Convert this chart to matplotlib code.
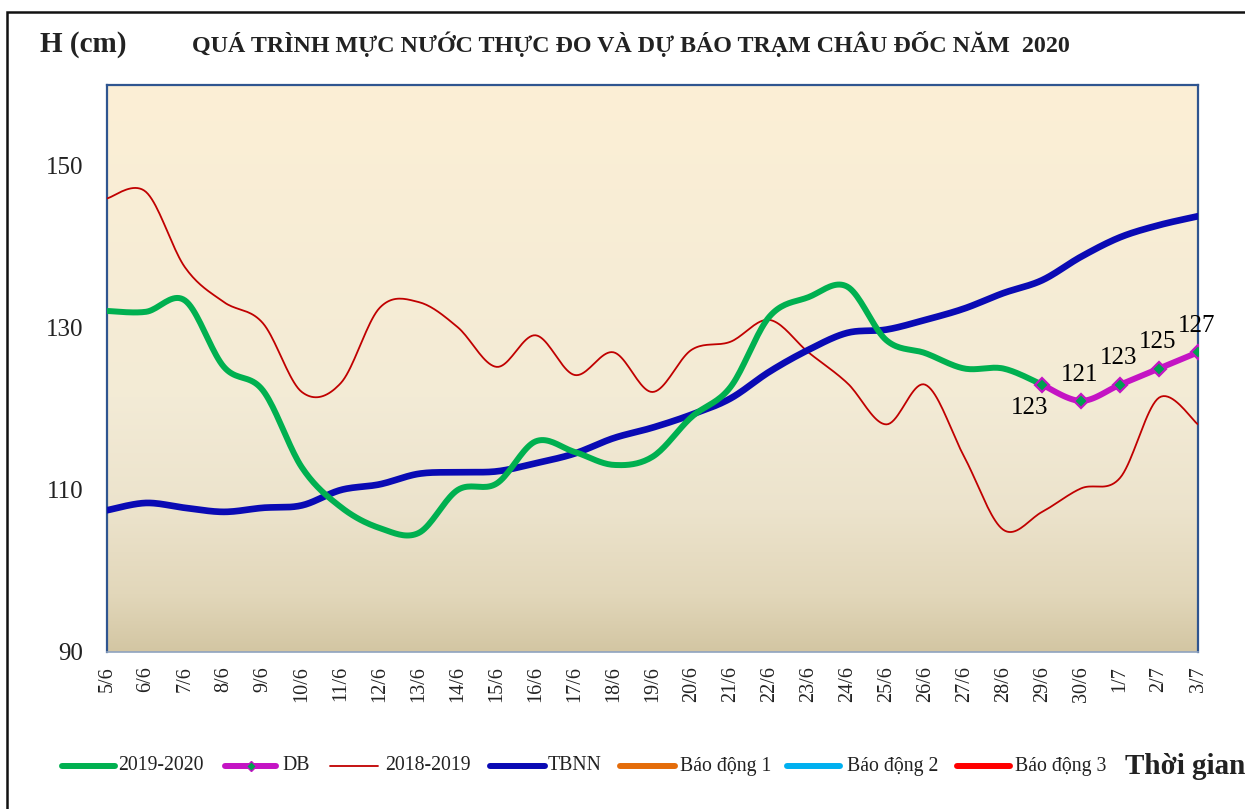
import numpy as np
import matplotlib
matplotlib.use("Agg")
import matplotlib.pyplot as plt
from matplotlib.lines import Line2D
from matplotlib.patches import Rectangle

plt.rcParams['font.family'] = ['Liberation Serif', 'DejaVu Serif']

dates = ["5/6", "6/6", "7/6", "8/6", "9/6", "10/6", "11/6", "12/6", "13/6", "14/6",
         "15/6", "16/6", "17/6", "18/6", "19/6", "20/6", "21/6", "22/6", "23/6", "24/6",
         "25/6", "26/6", "27/6", "28/6", "29/6", "30/6", "1/7", "2/7", "3/7"]

h_2019_2020 = [132.1, 132.0, 133.4, 125.2, 122.3, 112.8, 107.9, 105.3, 104.7, 110.0,
               110.8, 116.0, 114.7, 113.1, 114.1, 119.0, 122.7, 131.4, 133.8, 135.1,
               128.5, 126.9, 125.0, 125.0, 123.0]
db_start = 24
h_db = [123, 121, 123, 125, 127]
h_2018_2019 = [146.0, 146.8, 137.5, 133.2, 130.6, 122.1, 123.2, 132.5, 133.2, 130.1,
               125.2, 129.1, 124.2, 127.0, 122.1, 127.3, 128.3, 131.0, 127.0, 123.2,
               118.1, 123.0, 114.1, 105.1, 107.3, 110.2, 111.5, 121.4, 118.1]
h_tbnn = [107.5, 108.4, 107.8, 107.3, 107.8, 108.1, 110.0, 110.7, 112.0, 112.2,
          112.3, 113.3, 114.5, 116.4, 117.7, 119.3, 121.3, 124.6, 127.3, 129.4,
          129.8, 131.0, 132.4, 134.3, 135.9, 138.8, 141.2, 142.7, 143.8]

y_ticks = [90, 110, 130, 150]

title = "QUÁ TRÌNH MỰC NƯỚC THỰC ĐO VÀ DỰ BÁO TRẠM CHÂU ĐỐC NĂM  2020"


def smooth(xs, ys, n=20):
    xs = np.asarray(xs, float)
    ys = np.asarray(ys, float)
    P = np.column_stack([xs, ys])
    out = []
    for i in range(len(P) - 1):
        p0 = P[i - 1] if i > 0 else P[i]
        p1 = P[i]
        p2 = P[i + 1]
        p3 = P[i + 2] if i + 2 < len(P) else P[i + 1]
        c1 = p1 + (p2 - p0) / 6.0
        c2 = p2 - (p3 - p1) / 6.0
        t = np.linspace(0, 1, n, endpoint=(i == len(P) - 2))[:, None]
        seg = ((1 - t) ** 3) * p1 + 3 * ((1 - t) ** 2) * t * c1 + 3 * (1 - t) * t ** 2 * c2 + t ** 3 * p2
        out.append(seg)
    out = np.vstack(out)
    return out[:, 0], out[:, 1]


fig = plt.figure(figsize=(12.45, 8.09), dpi=100)
W, H = 1245, 809
ax = fig.add_axes([107 / W, 1 - 652 / H, 1091 / W, 567 / H])

# background gradient
stops = [(0.0, (252, 239, 213)), (0.55, (243, 235, 214)), (0.75, (236, 227, 204)),
         (0.9, (226, 215, 186)), (1.0, (211, 198, 163))]
pos = np.linspace(0, 1, 256)
grad = np.zeros((256, 1, 3))
for c in range(3):
    grad[:, 0, c] = np.interp(pos, [s[0] for s in stops], [s[1][c] / 255 for s in stops])
ax.imshow(grad, aspect='auto', extent=[0, 1, 0, 1], transform=ax.transAxes, zorder=0)

x_all = np.arange(len(dates))

xs, ys = smooth(x_all, h_2018_2019)
ax.plot(xs, ys, color='#C00000', lw=1.3, zorder=3, solid_capstyle='round')
xs, ys = smooth(x_all, h_tbnn)
ax.plot(xs, ys, color='#0A0AB4', lw=4.8, zorder=4, solid_capstyle='round')
xs, ys = smooth(x_all[:len(h_2019_2020)], h_2019_2020)
ax.plot(xs, ys, color='#00B050', lw=4.3, zorder=5, solid_capstyle='round')
x_db = x_all[db_start:db_start + len(h_db)]
xs, ys = smooth(x_db, h_db)
ax.plot(xs, ys, color='#C414C4', lw=4.3, zorder=6, solid_capstyle='round')
ax.plot(x_db, h_db, ls='none', marker='D', ms=7, mfc='#00A050', mec='#C414C4', mew=1.6, zorder=7)

for i, (xv, yv) in enumerate(zip(x_db, h_db)):
    if i == 0:
        ax.annotate(str(yv), (xv, yv), xytext=(-9, -9), textcoords='offset points',
                    ha='center', va='top', fontsize=18, zorder=8)
    else:
        ax.annotate(str(yv), (xv, yv), xytext=(-1, 11), textcoords='offset points',
                    ha='center', va='bottom', fontsize=18, zorder=8)

ax.set_xlim(0, len(dates) - 1)
ax.set_ylim(90, 160)
ax.set_yticks(y_ticks)
ax.set_yticklabels([str(v) for v in y_ticks], fontsize=18, color='#222222')
ax.set_xticks(x_all)
ax.set_xticklabels(dates, rotation=90, fontsize=14.5, color='#222222')
ax.tick_params(axis='both', length=0)
ax.tick_params(axis='y', pad=17)
ax.tick_params(axis='x', pad=10)
for s in ['left', 'right', 'top']:
    ax.spines[s].set_color('#2F5590')
    ax.spines[s].set_linewidth(1.6)
ax.spines['bottom'].set_color('#8FA3BF')
ax.spines['bottom'].set_linewidth(1.2)

# figure frame
fig.add_artist(Rectangle((7 / W, -0.05), 1.1, 1 - 12 / H + 0.05, transform=fig.transFigure,
                         fill=False, ec='#111111', lw=1.8))

fig.text(40 / W, 1 - 44 / H, "H (cm)", fontsize=21, fontweight='bold', ha='left', va='center', color='#222222')
fig.text(192 / W, 1 - 44 / H, title, fontsize=17.3, fontweight='bold', ha='left', va='center', color='#222222')

# legend
legend_items = [
    ("2019-2020", '#00B050', 4.3, 62, 115, 118, None),
    ("DB", '#C414C4', 4.3, 225, 276, 282, 'D'),
    ("2018-2019", '#C00000', 1.3, 330, 378, 385, None),
    ("TBNN", '#0A0AB4', 4.3, 490, 545, 548, None),
    ("Báo động 1", '#E46C0A', 4.3, 620, 675, 680, None),
    ("Báo động 2", '#00B0F0', 4.3, 787, 840, 847, None),
    ("Báo động 3", '#FF0000', 4.3, 957, 1010, 1015, None),
]
ly = 1 - 766 / H
for label, col, lw, x0, x1, tx, mk in legend_items:
    fig.add_artist(Line2D([x0 / W, x1 / W], [ly, ly], color=col, lw=lw, transform=fig.transFigure,
                          solid_capstyle='round'))
    if mk:
        fig.add_artist(Line2D([(x0 + x1) / 2 / W], [ly], marker='D', ms=5, mfc='#00A050', mec='#C414C4',
                              transform=fig.transFigure, ls='none'))
    fig.text(tx / W, ly, label, fontsize=14.2, ha='left', va='center', color='#222222')
fig.text(1125 / W, ly, "Thời gian", fontsize=21, fontweight='bold', ha='left', va='center', color='#222222')

fig.savefig("out.png", dpi=100)
